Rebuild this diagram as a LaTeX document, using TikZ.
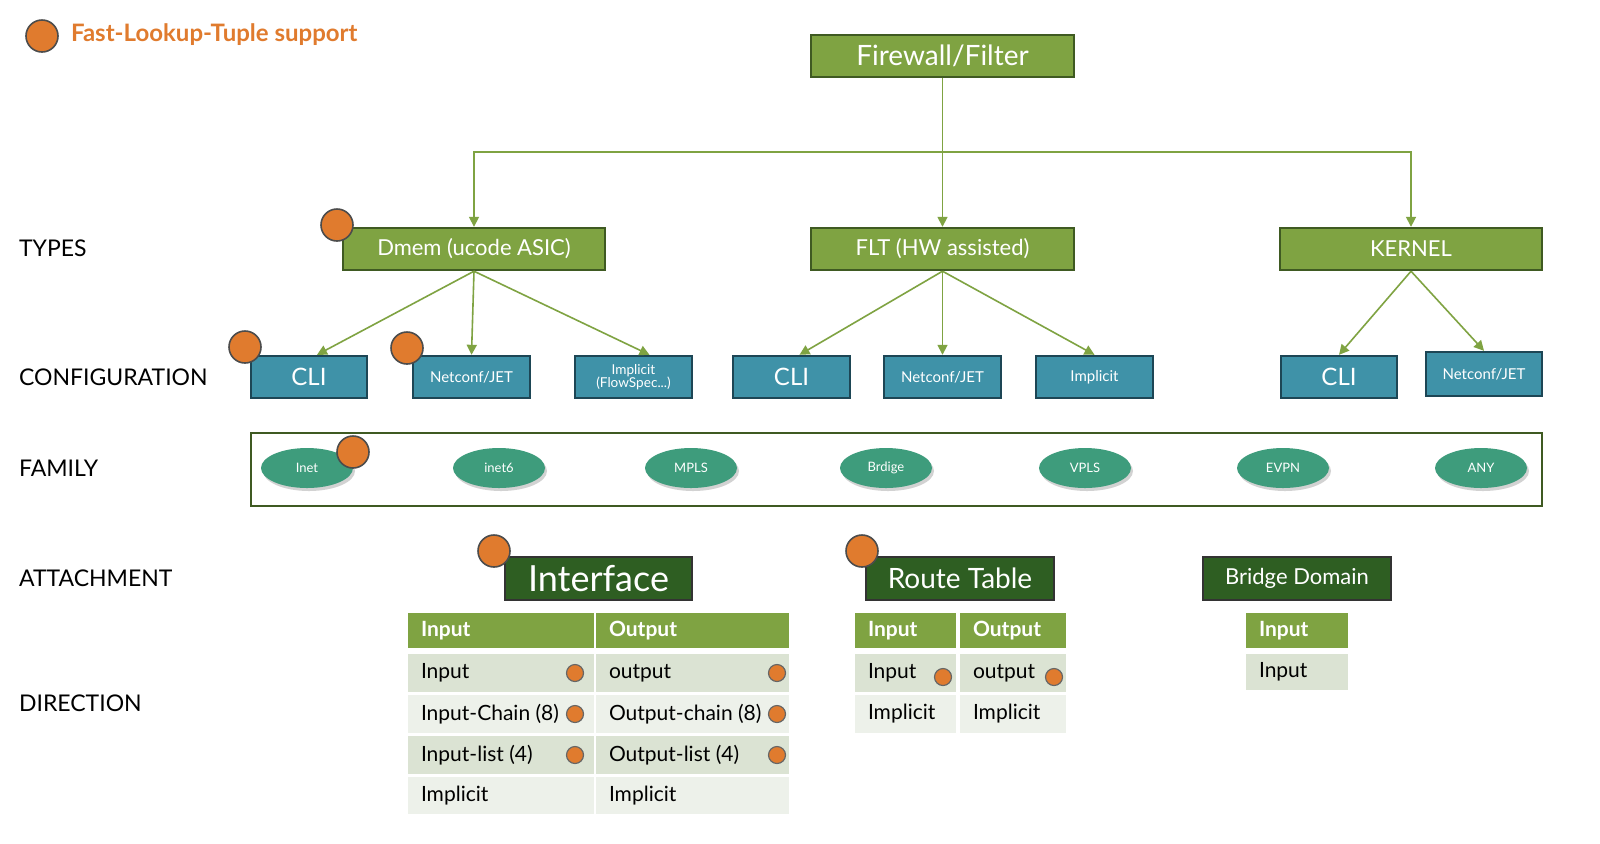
\documentclass[tikz,border=0pt]{standalone}
\usepackage{fontspec}
\setmainfont{Lato}
\usetikzlibrary{fit,arrows.meta,shadows,shapes.geometric}
\definecolor{lg}{HTML}{7FA342}
\definecolor{lgd}{HTML}{3F5A22}
\definecolor{dg}{HTML}{2E5E22}
\definecolor{tl}{HTML}{3F92A8}
\definecolor{tld}{HTML}{1D4655}
\definecolor{el}{HTML}{3E9C7C}
\definecolor{org}{HTML}{E07B2E}
\definecolor{ra}{HTML}{DBE3D3}
\definecolor{rb}{HTML}{EDF1EA}
\tikzset{
 gbox/.style={draw=lgd,line width=1.2pt,fill=lg,inner sep=0pt},
 tbox/.style={draw=tld,line width=1.2pt,fill=tl,inner sep=0pt},
 abox/.style={draw=black!80,line width=1pt,fill=dg,inner sep=0pt},
 wl/.style={text=white,align=center,inner sep=0pt,font=\fontsize{#1}{#1}\selectfont},
 fam/.style={ellipse,fill=el,text=white,minimum width=46pt,minimum height=20pt,inner sep=0pt,font=\fontsize{6.5}{7}\selectfont,drop shadow={opacity=0.35,shadow xshift=1pt,shadow yshift=-1.5pt}},
 dot/.style={circle,draw=black!70,line width=0.8pt,fill=org,minimum size=16pt,inner sep=0pt},
 sdot/.style={circle,draw=black!60,line width=0.6pt,fill=org,minimum size=8.5pt,inner sep=0pt},
 conn/.style={draw=lg,line width=0.8pt,-{Triangle[length=5pt,width=5pt]}},
 lab/.style={anchor=west,font=\fontsize{11.5}{13}\selectfont},
 hd/.style={fill=lg,inner sep=0pt},
 ca/.style={fill=ra,inner sep=0pt},
 cb/.style={fill=rb,inner sep=0pt},
 tt/.style={anchor=west,inner sep=0pt,font=\fontsize{10.5}{12}\selectfont},
 th/.style={tt,text=white,font=\fontsize{10.5}{12}\bfseries\selectfont},
}
\begin{document}
\begin{tikzpicture}[x=0.5pt,y=-0.5pt]
\useasboundingbox (0,0) rectangle (1600,843);
\fill[white] (0,0) rectangle (1600,843);
% legend
\node[dot] (lgd) at (42,36) {};
\node[anchor=west,text=org,font=\fontsize{12}{14}\bfseries\selectfont] (lgt) at (64,35) {Fast-Lookup-Tuple support};
% left labels
\node[lab] (l1) at (12,248) {TYPES};
\node[lab] (l2) at (12,377) {CONFIGURATION};
\node[lab] (l3) at (12,468) {FAMILY};
\node[lab] (l4) at (12,578) {ATTACHMENT};
\node[lab] (l5) at (12,703) {DIRECTION};
% top
\node[gbox,fit={(811,35)(1074,77)},label={[wl=14]center:Firewall/Filter}] (ff) {};
\node[gbox,fit={(343,228)(605,270)},label={[wl=11]center:Dmem (ucode ASIC)}] (dm) {};
\node[gbox,fit={(811,228)(1074,270)},label={[wl=11]center:FLT (HW assisted)}] (flt) {};
\node[gbox,fit={(1280,228)(1542,270)},label={[wl=11]center:KERNEL}] (kr) {};
\coordinate (j) at (942,152);
\draw[conn] (ff.south) -- (flt.north);
\draw[conn] (j) -| (dm.north);
\draw[conn] (j) -| (kr.north);
% config
\node[tbox,fit={(251,356)(367,398)},label={[wl=12]center:CLI}] (c1) {};
\node[tbox,fit={(413,356)(530,398)},label={[wl=7.5]center:Netconf/JET}] (c2) {};
\node[tbox,fit={(575,356)(692,398)},label={[wl=6.8]center:{Implicit\\(FlowSpec...)}}] (c3) {};
\node[tbox,fit={(733,356)(850,398)},label={[wl=12]center:CLI}] (c4) {};
\node[tbox,fit={(884,356)(1001,398)},label={[wl=7.5]center:Netconf/JET}] (c5) {};
\node[tbox,fit={(1036,356)(1153,398)},label={[wl=7.5]center:Implicit}] (c6) {};
\node[tbox,fit={(1281,356)(1397,398)},label={[wl=12]center:CLI}] (c7) {};
\node[tbox,fit={(1426,352)(1542,396)},label={[wl=7.5]center:Netconf/JET}] (c8) {};
\draw[conn] (dm.south) -- ([xshift=4pt]c1.north);
\draw[conn] (dm.south) -- (c2.north);
\draw[conn] (dm.south) -- ([xshift=8pt]c3.north);
\draw[conn] (flt.south) -- ([xshift=4pt]c4.north);
\draw[conn] (flt.south) -- (c5.north);
\draw[conn] (flt.south) -- (c6.north);
\draw[conn] (kr.south) -- (c7.north);
\draw[conn] (kr.south) -- (c8.north);
\node[dot] (d1) at (337,225) {};
\node[dot] (d2) at (245,347) {};
\node[dot] (d3) at (407,348) {};
% family
\node[draw=lgd,line width=1.2pt,inner sep=0pt,fit={(251,433)(1542,506)}] (fb) {};
\node[fam] (f1) at (307,468) {Inet};
\node[fam] (f2) at (499,468) {inet6};
\node[fam] (f3) at (691,468) {MPLS};
\node[fam] (f4) at (886,468) {Brdige};
\node[fam] (f5) at (1085,468) {VPLS};
\node[fam] (f6) at (1283,468) {EVPN};
\node[fam] (f7) at (1481,468) {ANY};
\node[dot] (d4) at (353,452) {};
% attachment
\node[abox,fit={(505,557)(692,600)},label={[wl=18]center:Interface}] (ai) {};
\node[abox,fit={(866,557)(1054,600)},label={[wl=14]center:Route Table}] (ar) {};
\node[abox,fit={(1203,557)(1391,600)},label={[wl=11]center:Bridge Domain}] (ab) {};
\node[dot] (d5) at (494,551) {};
\node[dot] (d6) at (862,551) {};
% tables
\foreach \x/\X/\n in {408/594/a,596/789/b}{
 \node[hd,fit={(\x,613)(\X,648)}] (i\n0) {};
 \node[ca,fit={(\x,654)(\X,692)}] (i\n1) {};
 \node[cb,fit={(\x,695)(\X,733)}] (i\n2) {};
 \node[ca,fit={(\x,736)(\X,774)}] (i\n3) {};
 \node[cb,fit={(\x,777)(\X,814)}] (i\n4) {};
}
\foreach \x/\X/\n in {855/956/a,960/1066/b}{
 \node[hd,fit={(\x,613)(\X,648)}] (r\n0) {};
 \node[ca,fit={(\x,654)(\X,692)}] (r\n1) {};
 \node[cb,fit={(\x,695)(\X,733)}] (r\n2) {};
}
\node[hd,fit={(1246,613)(1348,648)}] (b0) {};
\node[ca,fit={(1246,654)(1348,690)}] (b1) {};
\node[th] (t1) at ([xshift=6.5pt]ia0.west) {Input};
\node[th] (t2) at ([xshift=6.5pt]ib0.west) {Output};
\node[tt] (t3) at ([xshift=6.5pt]ia1.west) {Input};
\node[tt] (t4) at ([xshift=6.5pt]ib1.west) {output};
\node[tt] (t5) at ([xshift=6.5pt]ia2.west) {Input-Chain (8)};
\node[tt] (t6) at ([xshift=6.5pt]ib2.west) {Output-chain (8)};
\node[tt] (t7) at ([xshift=6.5pt]ia3.west) {Input-list (4)};
\node[tt] (t8) at ([xshift=6.5pt]ib3.west) {Output-list (4)};
\node[tt] (t9) at ([xshift=6.5pt]ia4.west) {Implicit};
\node[tt] (t10) at ([xshift=6.5pt]ib4.west) {Implicit};
\node[th] (u1) at ([xshift=6.5pt]ra0.west) {Input};
\node[th] (u2) at ([xshift=6.5pt]rb0.west) {Output};
\node[tt] (u3) at ([xshift=6.5pt]ra1.west) {Input};
\node[tt] (u4) at ([xshift=6.5pt]rb1.west) {output};
\node[tt] (u5) at ([xshift=6.5pt]ra2.west) {Implicit};
\node[tt] (u6) at ([xshift=6.5pt]rb2.west) {Implicit};
\node[th] (v1) at ([xshift=6.5pt]b0.west) {Input};
\node[tt] (v2) at ([xshift=6.5pt]b1.west) {Input};
\node[sdot] (s1) at (575,673) {};
\node[sdot] (s2) at (777,673) {};
\node[sdot] (s3) at (575,714) {};
\node[sdot] (s4) at (777,714) {};
\node[sdot] (s5) at (575,755) {};
\node[sdot] (s6) at (777,755) {};
\node[sdot] (s7) at (943,677) {};
\node[sdot] (s8) at (1054,677) {};
\end{tikzpicture}
\end{document}
